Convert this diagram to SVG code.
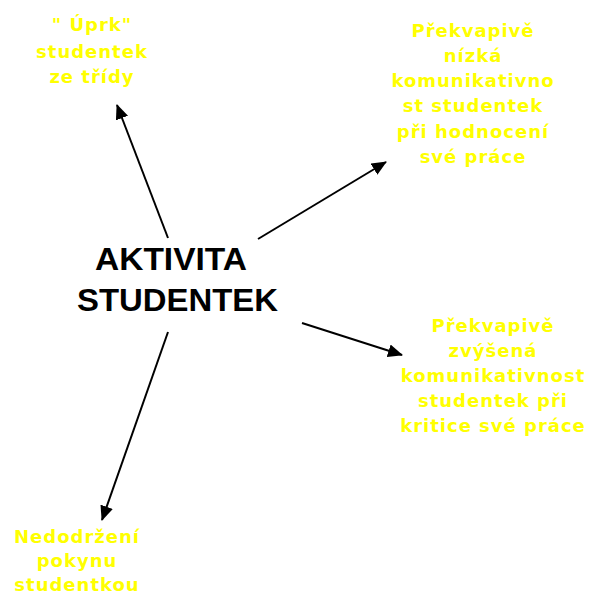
<svg xmlns="http://www.w3.org/2000/svg" width="592" height="594" viewBox="0 0 592 594">
<style>
.lbl{font-family:"DejaVu Sans","Verdana",sans-serif;font-weight:bold;font-size:18px;fill:#FFFF00;text-anchor:middle;letter-spacing:1px}
.main{font-family:"Liberation Sans",Arial,sans-serif;font-weight:bold;font-size:32px;fill:#000}
.conn{stroke:#000;stroke-width:2;fill:none;marker-end:url(#ah)}
</style>
<defs>
<marker id="ah" viewBox="0 0 15 13" refX="14" refY="6.5" markerWidth="15" markerHeight="13" markerUnits="userSpaceOnUse" orient="auto">
<path d="M0,0 L15,6.5 L0,13 Z" fill="#000"/>
</marker>
</defs>
<rect width="592" height="594" fill="#fff"/>
<g id="connectors">
<line class="conn" x1="168" y1="238" x2="117" y2="105"/>
<line class="conn" x1="258" y1="239" x2="386" y2="162"/>
<line class="conn" x1="302" y1="323" x2="402" y2="355"/>
<line class="conn" x1="168" y1="332" x2="102" y2="520"/>
</g>
<g id="center">
<text class="main" x="95" y="270" textLength="152" lengthAdjust="spacingAndGlyphs">AKTIVITA</text>
<text class="main" x="77" y="311" textLength="201" lengthAdjust="spacingAndGlyphs">STUDENTEK</text>
</g>
<g id="uprk">
<text class="lbl" x="92" y="31">" Úprk"</text>
<text class="lbl" x="92" y="58">studentek</text>
<text class="lbl" x="92" y="83">ze třídy</text>
</g>
<g id="nizka">
<text class="lbl" x="473" y="37">Překvapivě</text>
<text class="lbl" x="473" y="62">nízká</text>
<text class="lbl" x="473" y="87">komunikativno</text>
<text class="lbl" x="473" y="112">st studentek</text>
<text class="lbl" x="473" y="138">při hodnocení</text>
<text class="lbl" x="473" y="163">své práce</text>
</g>
<g id="zvysena">
<text class="lbl" x="493" y="332">Překvapivě</text>
<text class="lbl" x="493" y="357">zvýšená</text>
<text class="lbl" x="493" y="382">komunikativnost</text>
<text class="lbl" x="493" y="407">studentek při</text>
<text class="lbl" x="493" y="432">kritice své práce</text>
</g>
<g id="nedodrzeni">
<text class="lbl" x="77" y="543">Nedodržení</text>
<text class="lbl" x="77" y="567">pokynu</text>
<text class="lbl" x="77" y="591">studentkou</text>
</g>
</svg>
